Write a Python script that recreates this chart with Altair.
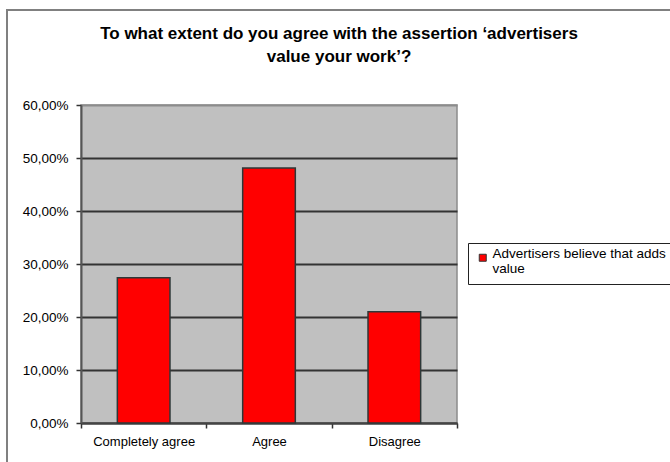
import altair as alt
import pandas as pd

categories = ["Completely agree", "Agree", "Disagree"]
values = [0.274, 0.481, 0.210]
series = ["Advertisers believe that adds value"]
title_lines = ["To what extent do you agree with the assertion \u2018advertisers", "value your work\u2019?"]
y_ticks = [0.0, 0.1, 0.2, 0.3, 0.4, 0.5, 0.6]

FONT = "Liberation Sans"

df = pd.DataFrame({"category": categories, "value": values, "series": series * len(categories)})
one_row = pd.DataFrame({"k": [0]})

frame = alt.Chart(one_row).mark_rect(
    fill="white", fillOpacity=0, stroke="#808080", strokeWidth=2
).encode(
    x=alt.value(-74), x2=alt.value(640), y=alt.value(-95), y2=alt.value(400)
)

title = alt.Chart(one_row).mark_text(
    font=FONT, fontSize=17, fontWeight="bold", color="black",
    align="center", baseline="alphabetic", lineHeight=23
).encode(
    x=alt.value(258), y=alt.value(-66), text=alt.value(title_lines)
)

bars = alt.Chart(df).mark_bar(
    width={"band": 0.42}, stroke="#2d3838", strokeWidth=1.5
).encode(
    x=alt.X("category:N", sort=categories,
            scale=alt.Scale(paddingInner=0, paddingOuter=0),
            axis=alt.Axis(title=None, labelAngle=0, tickBand="extent", tickSize=5,
                          tickColor="#333333", tickWidth=1.5, domainColor="#444444",
                          domainWidth=2, labelFont=FONT, labelFontSize=13,
                          labelColor="black", labelPadding=7)),
    y=alt.Y("value:Q", scale=alt.Scale(domain=[0, 0.6], nice=False, zero=True),
            axis=alt.Axis(title=None, values=y_ticks, grid=True,
                          gridColor={"condition": {"test": "datum.value >= 0.59", "value": "#8c8c8c"}, "value": "#333333"},
                          gridWidth=2, domainColor="#555555", domainWidth=2,
                          tickSize=5, tickColor="#333333", tickWidth=1.5,
                          labelExpr="replace(format(datum.value, '.2%'), '.', ',')",
                          labelFont=FONT, labelFontSize=13.5, labelColor="black",
                          labelPadding=8)),
    color=alt.Color("series:N", scale=alt.Scale(range=["#ff0000"]),
                    legend=alt.Legend(title=None, orient="none", legendX=387, legendY=138,
                                      strokeColor="#222222", fillColor="white", padding=8,
                                      symbolType="square", symbolSize=49,
                                      symbolStrokeColor="#333333", symbolStrokeWidth=1,
                                      labelFont=FONT, labelFontSize=13.5, labelColor="black",
                                      labelExpr="['Advertisers believe that adds', 'value']",
                                      labelLimit=0, labelOffset=3, labelBaseline="alphabetic")),
)

chart = alt.layer(frame, title, bars).properties(
    width=376, height=318,
    autosize=alt.AutoSizeParams(type="none"),
    padding={"left": 81, "top": 105, "right": 213, "bottom": 39},
    background="white",
).configure_view(
    fill="#c0c0c0", stroke="#8c8c8c", strokeWidth=1.5
)

chart.save("out.html", embed_options={"renderer": "svg", "actions": False})
